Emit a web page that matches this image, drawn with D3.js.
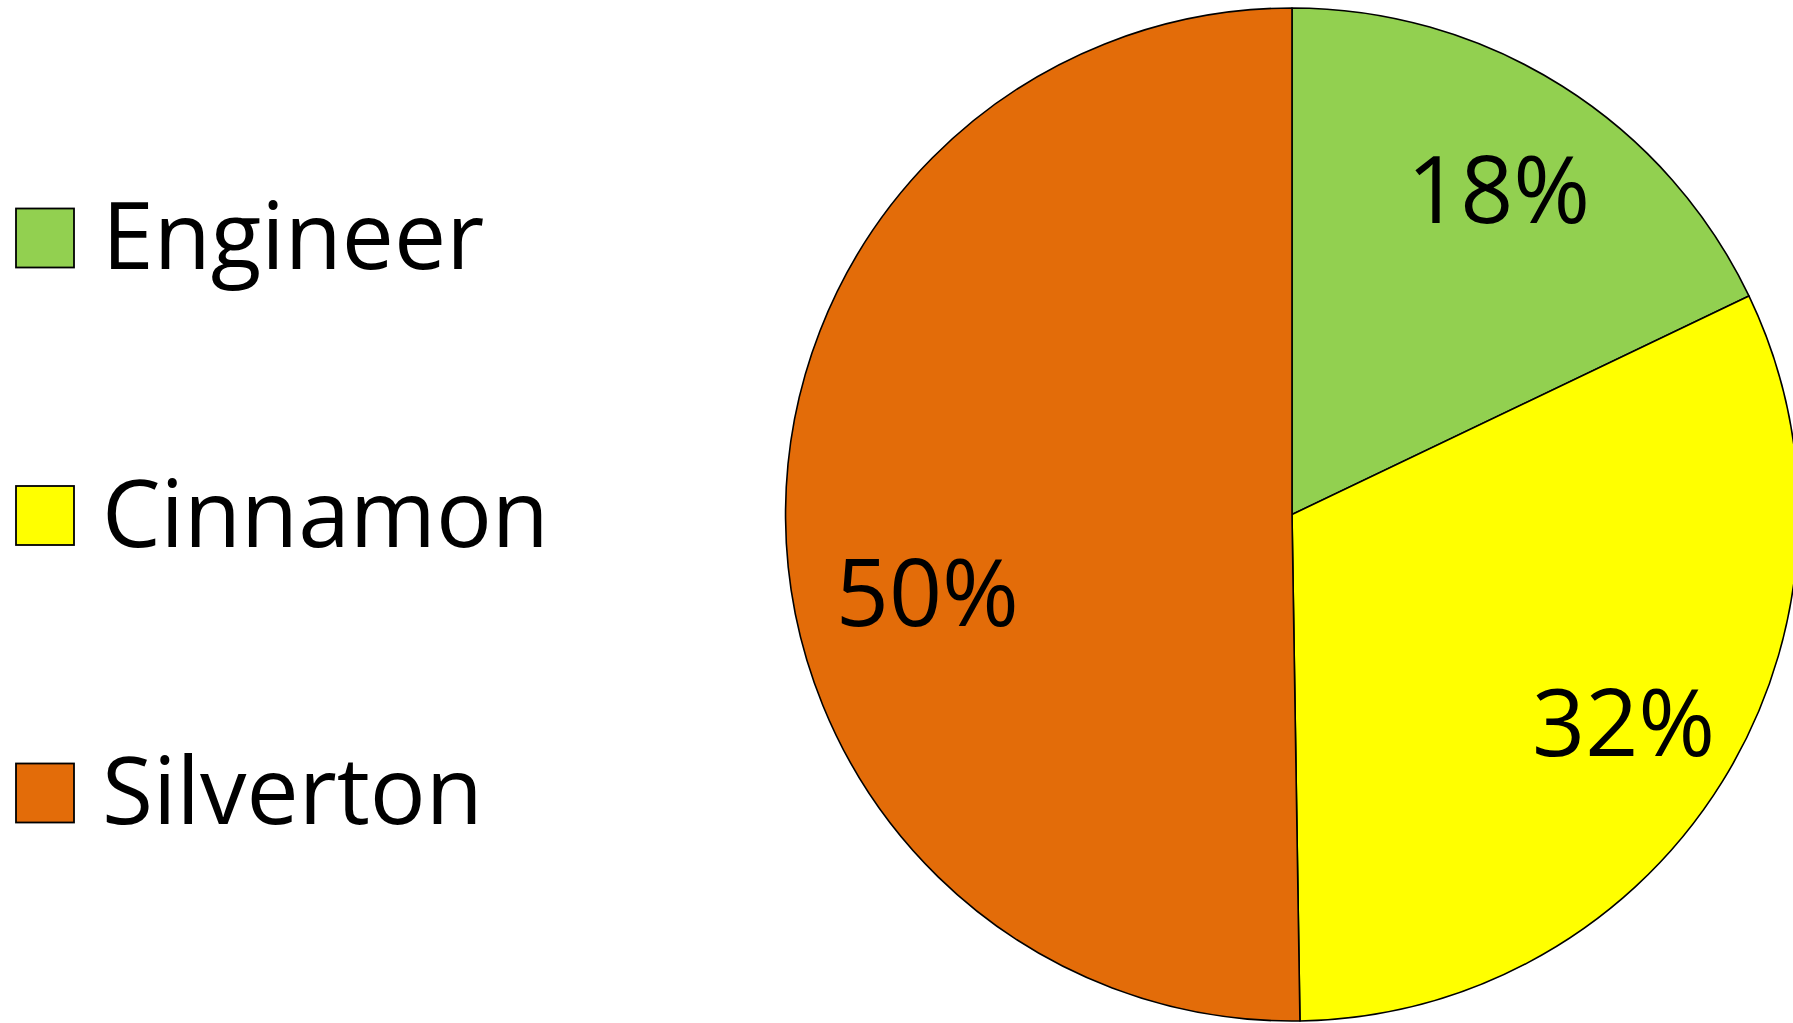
<!DOCTYPE html>
<html>
<head>
<meta charset="utf-8">
<script src="https://cdn.jsdelivr.net/npm/d3@7"></script>
<style>
  html, body { margin: 0; padding: 0; background: #ffffff; overflow: hidden; }
  svg { display: block; }
</style>
</head>
<body>
<svg id="chart" width="1793" height="1023"></svg>
<script>
// ---- data ----
const categories = ["Engineer", "Cinnamon", "Silverton"];
const shares = [17.9, 31.85, 50.25];
const percentLabels = ["18%", "32%", "50%"];
const colors = ["#92D050", "#FFFF00", "#E36C09"];

// ---- layout ----
const W = 1793, H = 1023;
const cx = 1292, cy = 514.5, R = 506.5;
const fontFamily = "'Open Sans', 'Noto Sans', sans-serif";
const fontSize = 93;

const svg = d3.select("#chart");

const data = categories.map((c, i) => ({ name: c, value: shares[i], label: percentLabels[i], color: colors[i] }));

const pie = d3.pie().sort(null).value(d => d.value);
const arcs = pie(data);
const arc = d3.arc().innerRadius(0).outerRadius(R);

const g = svg.append("g").attr("transform", `translate(${cx},${cy})`);

g.selectAll("path.slice")
  .data(arcs)
  .join("path")
  .attr("class", "slice")
  .attr("d", arc)
  .attr("fill", d => d.data.color)
  .attr("stroke", "#000")
  .attr("stroke-width", 1.6)
  .attr("stroke-linejoin", "round");

// label positions (Excel-like best fit)
const labelRadius = [0.765, 0.77, 0.735];
const labelAngleShift = [0, 0, -0.195];
g.selectAll("text.pct")
  .data(arcs)
  .join("text")
  .attr("class", "pct")
  .attr("transform", (d, i) => {
    const a = (d.startAngle + d.endAngle) / 2 + labelAngleShift[i];
    const r = R * labelRadius[i];
    return `translate(${r * Math.sin(a)},${-r * Math.cos(a)})`;
  })
  .attr("text-anchor", "middle")
  .attr("dominant-baseline", "central")
  .attr("font-family", fontFamily)
  .attr("font-size", fontSize)
  .attr("fill", "#000")
  .text(d => d.data.label);

// legend
const legendY = d3.scalePoint().domain(categories).range([238, 793]);
const lg = svg.append("g");
const items = lg.selectAll("g.item")
  .data(data)
  .join("g")
  .attr("class", "item")
  .attr("transform", d => `translate(0,${legendY(d.name)})`);

items.append("rect")
  .attr("x", 16).attr("y", -29.5)
  .attr("width", 58).attr("height", 59)
  .attr("fill", d => d.color)
  .attr("stroke", "#000")
  .attr("stroke-width", 1.8);

items.append("text")
  .attr("x", 102)
  .attr("y", 31)
  .attr("font-family", fontFamily)
  .attr("font-size", fontSize)
  .attr("fill", "#000")
  .text(d => d.name);
</script>
</body>
</html>
